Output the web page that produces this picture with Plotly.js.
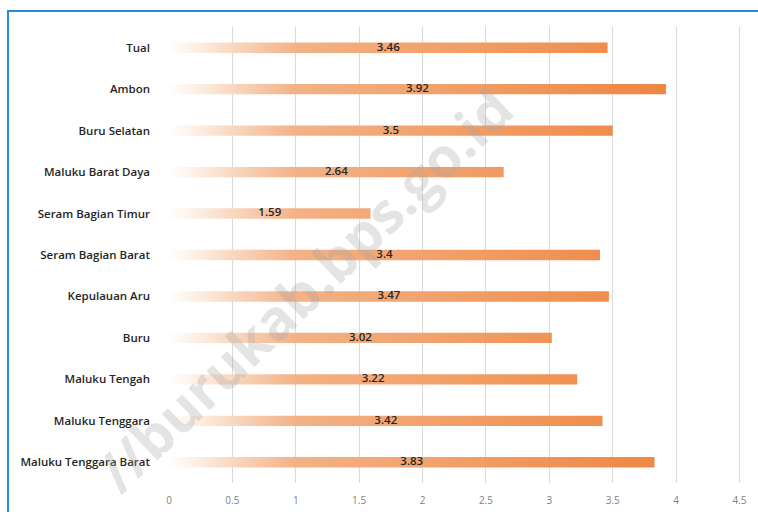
<!DOCTYPE html>
<html>
<head>
<meta charset="utf-8">
<script src="https://cdn.plot.ly/plotly-3.0.1.min.js"></script>
<style>
  html, body { margin: 0; padding: 0; background: #ffffff; }
  #frame { position: absolute; left: 7px; top: 10px; width: 760px; height: 520px;
           border-left: 2px solid #2a8ad8; border-top: 2px solid #2a8ad8; }
  #chart { position: absolute; left: 0; top: 0; width: 758px; height: 512px; }
</style>
</head>
<body>
<div id="frame"></div>
<div id="chart"></div>
<script>
const categories = ["Tual", "Ambon", "Buru Selatan", "Maluku Barat Daya", "Seram Bagian Timur",
  "Seram Bagian Barat", "Kepulauan Aru", "Buru", "Maluku Tengah", "Maluku Tenggara", "Maluku Tenggara Barat"];
const values = [3.46, 3.92, 3.5, 2.64, 1.59, 3.4, 3.47, 3.02, 3.22, 3.42, 3.83];
const xTicks = [0, 0.5, 1, 1.5, 2, 2.5, 3, 3.5, 4, 4.5];

const idx = categories.map((c, i) => i);
const half = 0.125;

// gradient-filled bar shapes derived from the data
const px = [], py = [];
values.forEach((v, i) => {
  px.push(0, v, v, 0, 0, null);
  py.push(i - half, i - half, i + half, i + half, i - half, null);
});

const barTrace = {
  type: 'scatter', mode: 'none', x: px, y: py, fill: 'toself',
  fillgradient: {
    type: 'horizontal', start: 0, stop: 4,
    colorscale: [[0, '#ffffff'], [0.05, '#fdf0e6'], [0.14, '#f8d3ba'], [0.25, '#f3b286'],
                 [0.6, '#f19d64'], [1, '#ee8540']]
  },
  hoverinfo: 'skip', showlegend: false
};

const labelTrace = {
  type: 'scatter', mode: 'text',
  x: values.map(v => v / 2), y: idx,
  text: values.map(v => String(v)),
  textposition: 'middle center',
  textfont: { family: 'Open Sans, sans-serif', size: 11.5, color: '#262626', weight: 600 },
  hoverinfo: 'skip', showlegend: false
};

const layout = {
  width: 758, height: 512,
  margin: { l: 169, r: 16, t: 27, b: 29 },
  paper_bgcolor: 'rgba(0,0,0,0)', plot_bgcolor: 'rgba(0,0,0,0)',
  showlegend: false,
  xaxis: {
    range: [0, 4.52], tickvals: xTicks, ticktext: xTicks.map(String),
    showgrid: true, gridcolor: '#d9d9d9', gridwidth: 1, zeroline: false,
    showline: false, ticks: '', ticklabelstandoff: 10,
    tickfont: { family: 'Open Sans, sans-serif', size: 10, color: '#7f7f7f' }
  },
  yaxis: {
    range: [10.5, -0.5], tickvals: idx, ticktext: categories,
    showgrid: false, zeroline: false, showline: false, ticks: '',
    ticklabelstandoff: 18,
    tickfont: { family: 'Open Sans, sans-serif', size: 11.5, color: '#262626', weight: 600 }
  },
  annotations: [{
    xref: 'paper', yref: 'paper', x: 0.235, y: 0.425, xanchor: 'center', yanchor: 'middle',
    text: '<b>//burukab.bps.go.id</b>', showarrow: false, textangle: -44,
    font: { family: 'Open Sans, sans-serif', size: 56, color: 'rgba(165,165,165,0.30)' }
  }]
};

Plotly.newPlot('chart', [barTrace, labelTrace], layout, { displayModeBar: false, staticPlot: true });
</script>
</body>
</html>
